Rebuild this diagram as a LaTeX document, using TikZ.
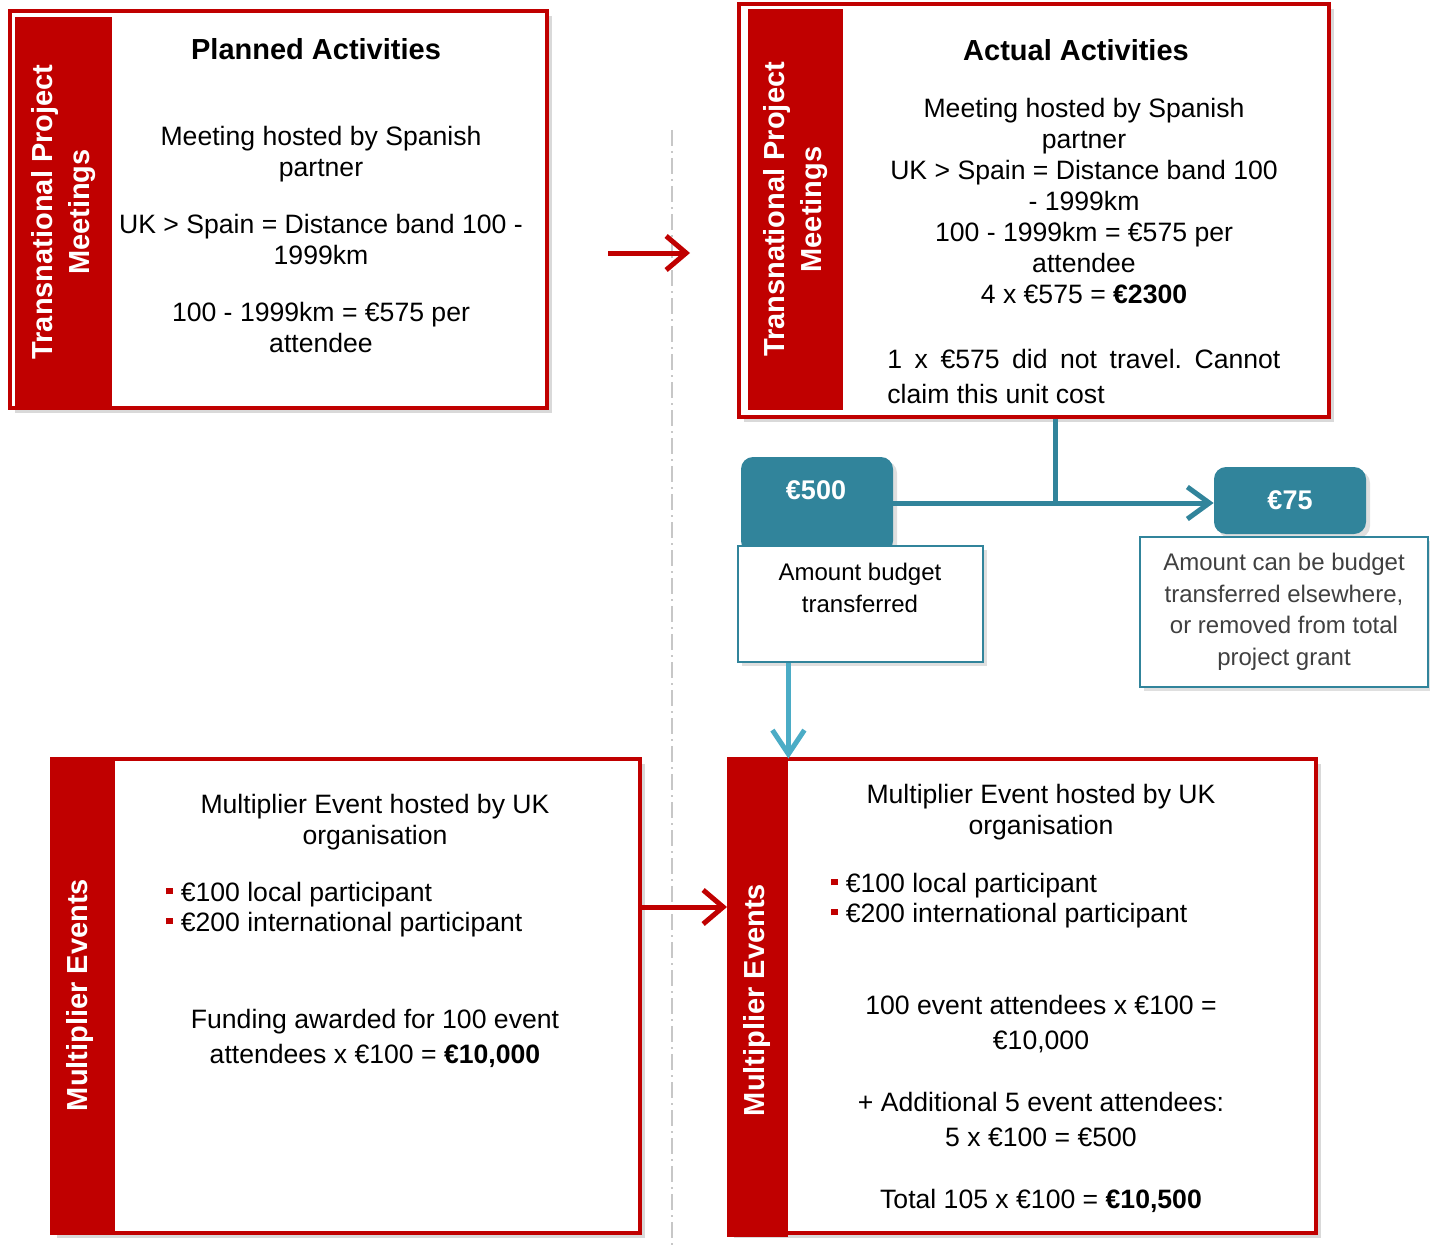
\documentclass[tikz,border=0pt]{standalone}
\usepackage{fontspec}
\setmainfont{Liberation Sans}
\usetikzlibrary{arrows.meta,shadows}
\definecolor{boxred}{HTML}{C00000}
\definecolor{aqua}{HTML}{31849B}
\definecolor{lightaqua}{HTML}{4BACC6}
\definecolor{notegray}{HTML}{404040}
\newcommand{\redsq}{\textcolor{boxred}{\rule[3.3pt]{3.2pt}{3.4pt}}\hspace{4pt}}
\frenchspacing
\begin{document}
\begin{tikzpicture}[x=0.5pt, y=-0.5pt,
    every node/.style={inner sep=0pt, font=\fontsize{13.3}{15.5}\selectfont},
    panel/.style={draw=boxred, line width=2pt, fill=white, drop shadow={shadow xshift=2.5pt, shadow yshift=-2.5pt, opacity=.3}},
    sidebar/.style={fill=boxred},
    bartext/.style={rotate=90, text=white, align=center, font=\bfseries\fontsize{14.5}{18.5}\selectfont},
    heading/.style={anchor=base, font=\bfseries\fontsize{14.5}{17}\selectfont},
    bodytext/.style={anchor=base, align=center},
    widetext/.style={anchor=base, align=center, font=\fontsize{13.3}{17.5}\selectfont},
    amount/.style={fill=aqua, rounded corners=6pt, text=white, font=\bfseries\fontsize{13.5}{16}\selectfont, drop shadow={shadow xshift=2pt, shadow yshift=-2pt, opacity=.25}},
    notebox/.style={draw=aqua, line width=1pt, fill=white, drop shadow={shadow xshift=2pt, shadow yshift=-2pt, opacity=.25}},
    notetext/.style={align=center, font=\fontsize{12}{16}\selectfont},
    redarrow/.style={draw=boxred, line width=2.5pt, -{Straight Barb[length=10pt, width=17pt]}},
    aqualine/.style={draw=aqua, line width=2.5pt},
    aquaarrow/.style={aqualine, -{Straight Barb[length=11pt, width=16pt]}},
    bluearrow/.style={draw=lightaqua, line width=2.5pt, -{Straight Barb[length=12pt, width=16pt]}},
    divider/.style={draw=black!22, line width=1pt, dash pattern=on 8pt off 2.5pt on 1pt off 2.5pt}]
    \useasboundingbox (0,0) rectangle (1430,1252);
    \coordinate (divtop) at (672,130);
    \coordinate (divbot) at (672,1245);
    \draw[divider] (divtop) -- (divbot);

    \node[panel, minimum width=268.5pt, minimum height=198.5pt] (plan) at (278.5,209.5) {};
    \node[sidebar, minimum width=48.5pt, minimum height=195pt] (planbar) at (63.5,212) {};
    \node[bartext] (planlabel) at (planbar) {Transnational Project\\Meetings};
    \node[heading] (planhead) at (316,60) {Planned Activities};
    \node[bodytext] (planbody) at (321,352) {Meeting hosted by Spanish\\partner\\[13pt]UK > Spain = Distance band 100 -\\1999km\\[13pt]100 - 1999km = €575 per\\attendee};

    \node[panel, minimum width=295pt, minimum height=206.5pt] (actual) at (1034,210.5) {};
    \node[sidebar, minimum width=47.5pt, minimum height=200.5pt] (actualbar) at (795.5,209.5) {};
    \node[bartext] (actuallabel) at (actualbar) {Transnational Project\\Meetings};
    \node[heading] (actualhead) at (1076,61) {Actual Activities};
    \node[bodytext] (actualbody) at (1084,303) {Meeting hosted by Spanish\\partner\\UK > Spain = Distance band 100\\- 1999km\\100 - 1999km = €575 per\\attendee\\4 x €575 = \textbf{€2300}};
    \node[anchor=base west, text width=196.5pt, align=justify, font=\fontsize{13.3}{17.5}\selectfont] (actualnote) at (887,368) {1 x €575 did not travel. Cannot claim this unit cost};

    \node[panel, minimum width=294pt, minimum height=237pt] (mplan) at (346,996) {};
    \node[sidebar, minimum width=32.5pt, minimum height=239pt] (mplanbar) at (82.5,996) {};
    \node[bartext] (mplanlabel) at (80,995) {Multiplier Events};
    \node[bodytext] (mplanhost) at (375,844) {Multiplier Event hosted by UK\\organisation};
    \node[anchor=base west, align=left, font=\fontsize{13.3}{15}\selectfont] (mplanlist) at (166,931) {\redsq €100 local participant\\\redsq €200 international participant};
    \node[widetext] (mplanfund) at (375,1063) {Funding awarded for 100 event\\attendees x €100 = \textbf{€10,000}};

    \node[panel, minimum width=293.5pt, minimum height=237pt] (mactual) at (1022.5,996) {};
    \node[sidebar, minimum width=30.5pt, minimum height=239pt] (mactualbar) at (757.5,998) {};
    \node[bartext] (mactuallabel) at (757,1000) {Multiplier Events};
    \node[bodytext] (mactualhost) at (1041,834) {Multiplier Event hosted by UK\\organisation};
    \node[anchor=base west, align=left, font=\fontsize{13.3}{15}\selectfont] (mactuallist) at (831,922) {\redsq €100 local participant\\\redsq €200 international participant};
    \node[widetext] (mactualsum) at (1041,1208) {100 event attendees x €100 =\\€10,000\\[13.5pt]+ Additional 5 event attendees:\\5 x €100 = €500\\[13.5pt]Total 105 x €100 = \textbf{€10,500}};

    \node[amount, minimum width=76pt, minimum height=48pt] (cut) at (817,505) {};
    \node[text=white, font=\bfseries\fontsize{13.5}{16}\selectfont] (cutlabel) at (816,490) {€500};
    \node[notebox, minimum width=122.5pt, minimum height=58pt] (cutnote) at (860.5,604) {};
    \node[notetext, anchor=base] (cutnotetext) at (860,612) {Amount budget\\transferred};
    \node[amount, minimum width=76pt, minimum height=33.5pt] (left) at (1290,500.5) {€75};
    \node[notebox, notetext, text=notegray, font=\fontsize{12}{15.75}\selectfont, minimum width=144pt, minimum height=75pt] (leftnote) at (1284,612) {Amount can be budget\\transferred elsewhere,\\or removed from total\\project grant};

    \coordinate (split) at (1055,503);
    \draw[aqualine] (actual.south -| split) -- (split);
    \draw[aquaarrow] (cut.east |- split) -- (left.west |- split);
    \draw[bluearrow] (cutnote.south -| mactualbar.east) -- (mactualbar.north east);
    \coordinate (planout) at (608,253);
    \coordinate (actualin) at (690,253);
    \draw[redarrow] (planout) -- (actualin);
    \coordinate (mid) at (684,907);
    \draw[redarrow] (mplan.east |- mid) -- (mactual.west |- mid);
\end{tikzpicture}
\end{document}
